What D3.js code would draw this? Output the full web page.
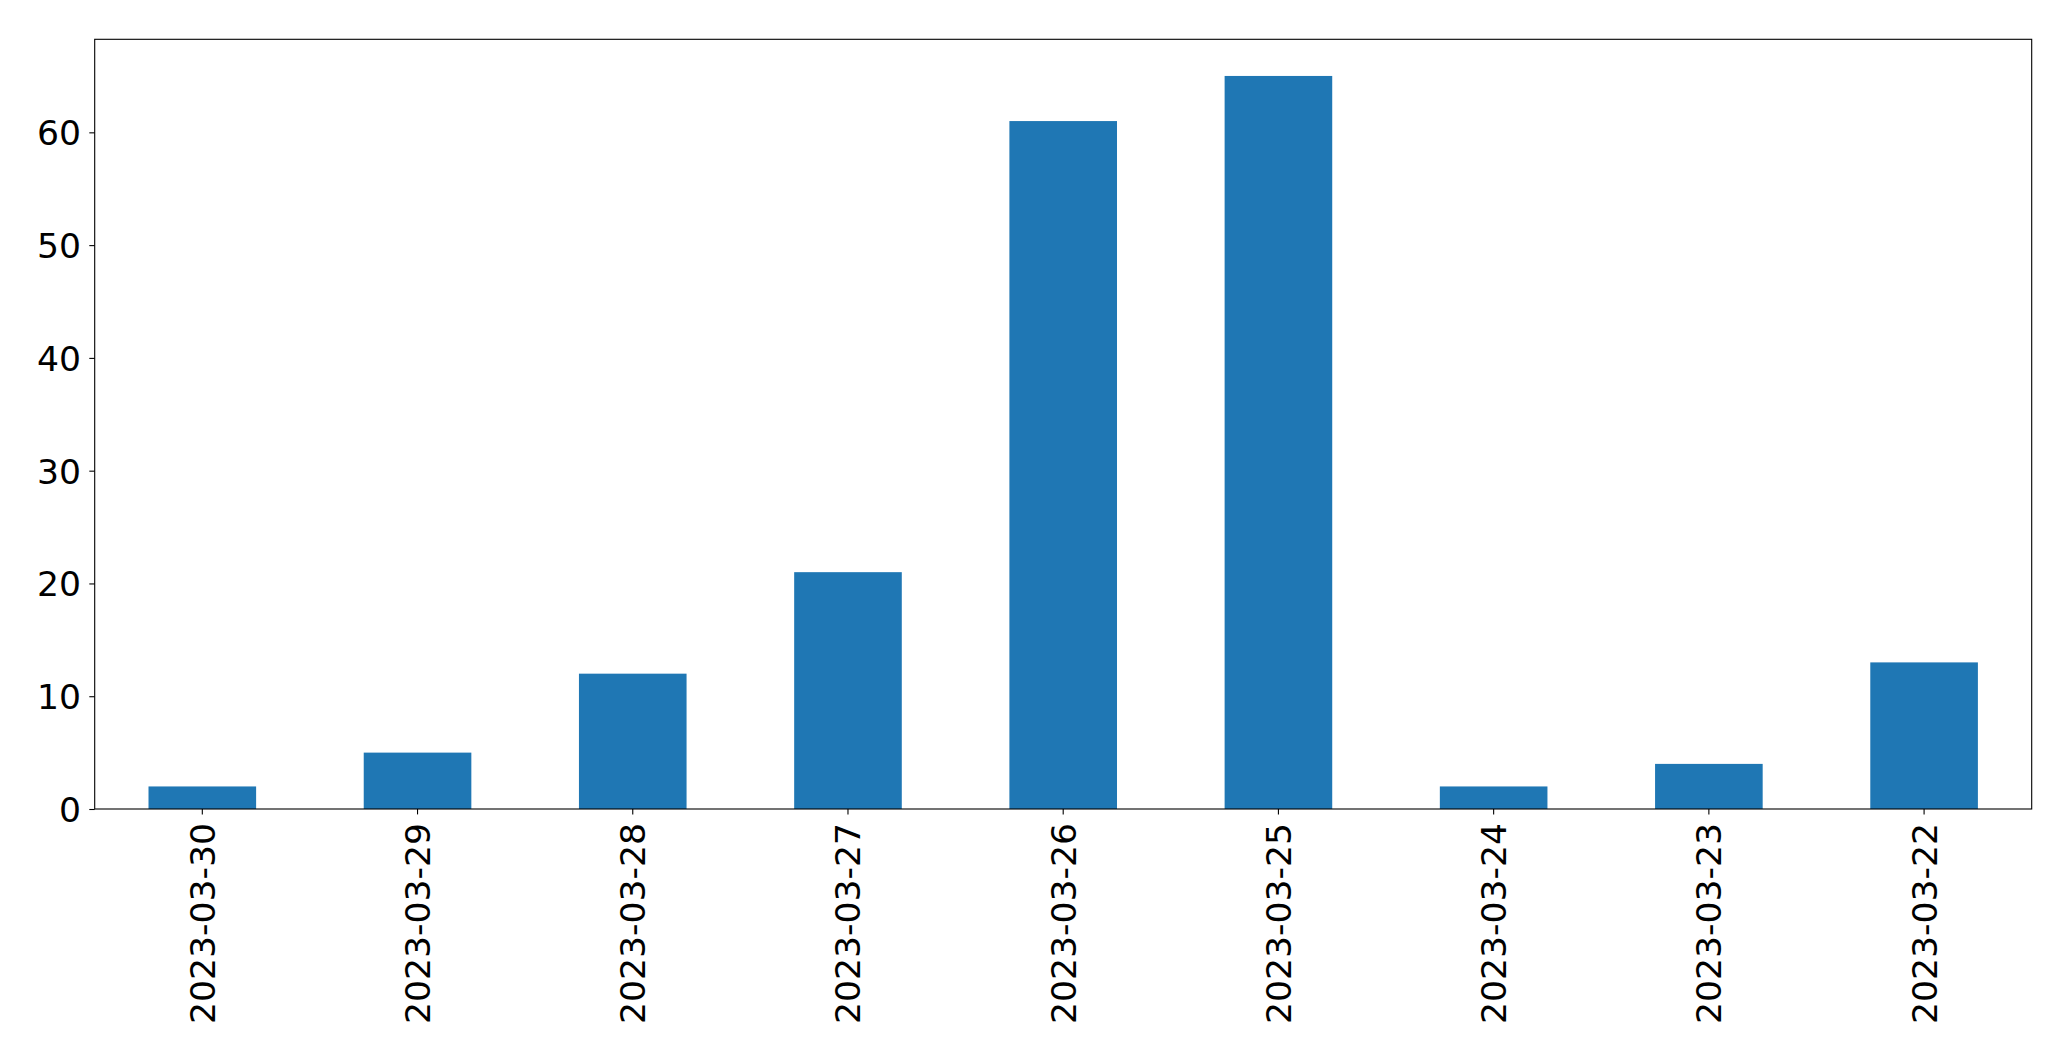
<!DOCTYPE html>
<html>
<head>
<meta charset="utf-8">
<script src="https://cdn.jsdelivr.net/npm/d3@7"></script>
<style>
  html, body { margin: 0; padding: 0; background: #fff; }
  svg { display: block; }
  text { font-family: "DejaVu Sans", sans-serif; fill: #000; }
</style>
</head>
<body>
<svg id="chart" width="2071" height="1061"></svg>
<script>
const categories = ["2023-03-30","2023-03-29","2023-03-28","2023-03-27","2023-03-26","2023-03-25","2023-03-24","2023-03-23","2023-03-22"];
const values = [2, 5, 12, 21, 61, 65, 2, 4, 13];
const yTicks = [0, 10, 20, 30, 40, 50, 60];

const W = 2071, H = 1061;
const m = { left: 94.7, top: 39.3, right: W - 2031.7, bottom: H - 809 };
const svg = d3.select("#chart");
const pw = W - m.left - m.right, ph = H - m.top - m.bottom;
const g = svg.append("g").attr("transform", `translate(${m.left},${m.top})`);

const x = d3.scaleBand().domain(categories).range([0, pw]).paddingInner(0.5).paddingOuter(0.25);
const y = d3.scaleLinear().domain([0, d3.max(values) * 1.05]).range([ph, 0]);

g.selectAll("rect.bar").data(values).enter().append("rect")
  .attr("class", "bar")
  .attr("x", (d, i) => x(categories[i]))
  .attr("width", x.bandwidth())
  .attr("y", d => y(d))
  .attr("height", d => ph - y(d))
  .attr("fill", "#1f77b4");

const fs = 34.6;
const yAxis = g.append("g").call(d3.axisLeft(y).tickValues(yTicks).tickSize(5.4).tickPadding(8.3).tickFormat(d3.format("d")));
yAxis.select(".domain").remove();
yAxis.selectAll("line").attr("stroke", "#000").attr("stroke-width", 1.1);
yAxis.selectAll("text").style("font-size", fs + "px").attr("dy", "0.36em");

const xAxis = g.append("g").attr("transform", `translate(0,${ph})`)
  .call(d3.axisBottom(x).tickSize(5.4).tickPadding(0));
xAxis.select(".domain").remove();
xAxis.selectAll("line").attr("stroke", "#000").attr("stroke-width", 1.1);
xAxis.selectAll("text")
  .style("font-size", fs + "px")
  .attr("text-anchor", "end")
  .attr("y", 0).attr("x", 0)
  .attr("dy", "0.36em")
  .attr("transform", "translate(0,14) rotate(-90)");

g.append("rect").attr("x", 0).attr("y", 0).attr("width", pw).attr("height", ph)
  .attr("fill", "none").attr("stroke", "#000").attr("stroke-width", 1.1);
</script>
</body>
</html>
